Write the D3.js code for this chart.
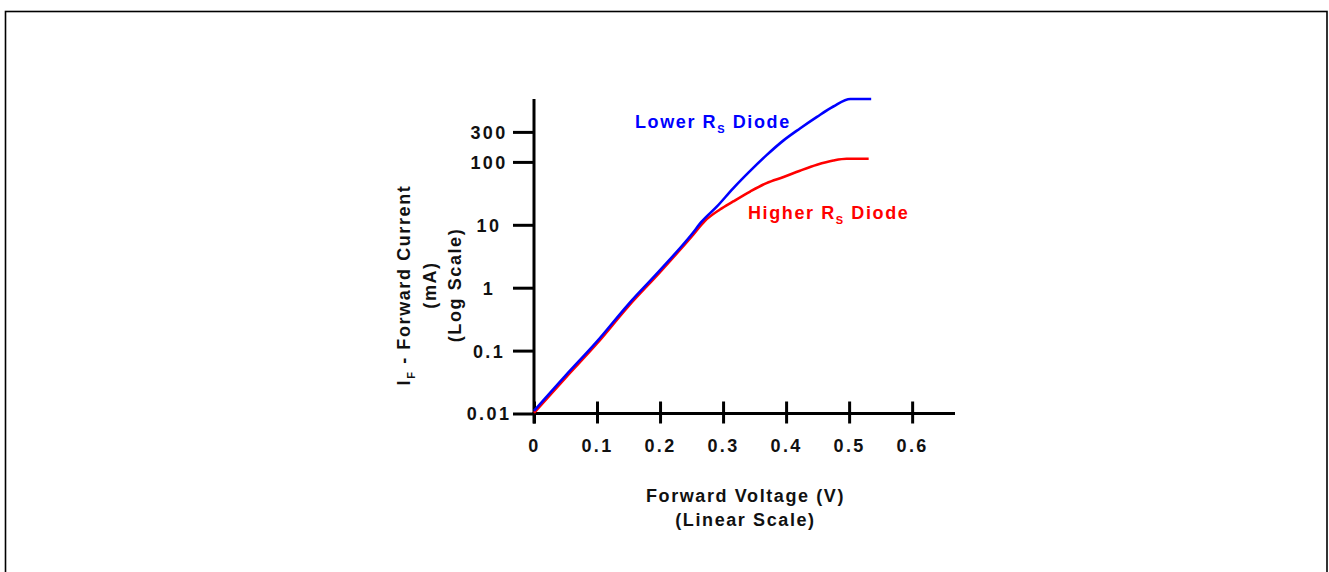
<!DOCTYPE html>
<html>
<head>
<meta charset="utf-8">
<script src="https://cdn.jsdelivr.net/npm/d3@7"></script>
<style>
  html, body { margin: 0; padding: 0; background: #fff; }
  svg { display: block; }
  text { font-family: "Liberation Sans", Arial, sans-serif; font-weight: bold; letter-spacing: 1.6px; }
</style>
</head>
<body>
<svg width="1329" height="572"></svg>
<script>
var voltsLower = [0, 0.05, 0.1, 0.15, 0.2, 0.25, 0.266, 0.29, 0.316, 0.343, 0.369, 0.396, 0.422, 0.449, 0.475, 0.502, 0.535]
var currentLower = [0.011, 0.04, 0.14, 0.55, 1.9, 7.0, 11.2, 19.4, 38, 72, 128, 220, 340, 520, 760, 1000, 1000]

var voltsHigher = [0, 0.05, 0.1, 0.15, 0.2, 0.25, 0.271, 0.295, 0.316, 0.343, 0.369, 0.396, 0.422, 0.449, 0.475, 0.496, 0.531]
var currentHigher = [0.0102, 0.037, 0.13, 0.51, 1.77, 6.5, 11.5, 17.5, 23.5, 33.8, 46, 57.5, 72.4, 90, 105, 112, 112]

var xTicks = [0, 0.1, 0.2, 0.3, 0.4, 0.5, 0.6]
var yTicks = [0.01, 0.1, 1, 10, 100, 300]
var yTickLabels = ["0.01", "0.1", "1", "10", "100", "300"]

document.addEventListener("DOMContentLoaded", function () {

  viz();

  function viz() {
    var svg = d3.select("svg")

    // frame around the picture, bottom edge is off the page
    svg.append("rect")
      .attr("x", 5.5).attr("y", 11.5)
      .attr("width", 1321.5).attr("height", 600)
      .style("fill", "none").style("stroke", "#000").style("stroke-width", 1.6)

    var xScale = d3.scaleLinear().domain([0, 0.668]).range([534, 955])
    var yScale = d3.scaleLog().domain([0.01, 1000]).range([413.5, 99])

    var xAxis = d3.axisBottom()
      .scale(xScale)
      .tickValues(xTicks)
      .tickSize(10)
      .tickFormat(function (d) { return d === 0 ? "0" : d3.format(".1f")(d) });

    var xg = svg.append("g").attr("id", "xAxisG")
      .attr("transform", "translate(0," + yScale(0.01) + ")")
      .call(xAxis);
    xg.select(".domain").remove()
    xg.selectAll(".tick line").attr("y1", -12).attr("y2", 10).style("stroke", "#000").style("stroke-width", 3)
    xg.selectAll(".tick text").attr("y", 38).attr("dy", 0).style("font-size", "18px").style("fill", "#111")
      .style("font-family", null).style("letter-spacing", "2.4px")

    var yAxis = d3.axisLeft()
      .scale(yScale)
      .tickValues(yTicks)
      .tickSize(21)
      .tickFormat(function (d, i) { return yTickLabels[i] });

    var yg = svg.append("g").attr("id", "yAxisG")
      .attr("transform", "translate(" + xScale(0) + ",0)")
      .call(yAxis);
    yg.select(".domain").remove()
    yg.selectAll(".tick line").style("stroke", "#000").style("stroke-width", 3)
    yg.selectAll(".tick text").attr("x", -45).attr("dy", "0.36em")
      .attr("text-anchor", "middle").style("font-size", "18px").style("fill", "#111")
      .style("font-family", null).style("letter-spacing", "2.4px")

    // axis lines
    svg.append("line")
      .attr("x1", xScale(0)).attr("x2", xScale(0))
      .attr("y1", yScale(1000)).attr("y2", yScale(0.01) + 10)
      .style("stroke", "#000").style("stroke-width", 3)
    svg.append("line")
      .attr("x1", xScale(0) - 1.5).attr("x2", xScale(0.668))
      .attr("y1", yScale(0.01)).attr("y2", yScale(0.01))
      .style("stroke", "#000").style("stroke-width", 3)

    var line = d3.line()
      .x(function (d) { return xScale(d[0]) })
      .y(function (d) { return yScale(d[1]) })
      .curve(d3.curveMonotoneX)

    var higher = voltsHigher.map(function (v, i) { return [v, currentHigher[i]] })
    var lower = voltsLower.map(function (v, i) { return [v, currentLower[i]] })

    svg.append("path").datum(higher).attr("d", line)
      .style("fill", "none").style("stroke", "#ff0000").style("stroke-width", 2.6)
    svg.append("path").datum(lower).attr("d", line)
      .style("fill", "none").style("stroke", "#0000ff").style("stroke-width", 2.6)

    // series labels
    var lab1 = svg.append("text").attr("x", 635).attr("y", 128)
      .style("font-size", "18px").style("fill", "#0000ff")
    lab1.append("tspan").text("Lower R")
    lab1.append("tspan").attr("dy", 5).style("font-size", "11px").text("S")
    lab1.append("tspan").attr("dy", -5).text(" Diode")

    var lab2 = svg.append("text").attr("x", 748).attr("y", 219)
      .style("font-size", "18px").style("fill", "#ff0000")
    lab2.append("tspan").text("Higher R")
    lab2.append("tspan").attr("dy", 5).style("font-size", "11px").text("S")
    lab2.append("tspan").attr("dy", -5).text(" Diode")

    // x title
    svg.append("text").attr("x", 745.5).attr("y", 502)
      .attr("text-anchor", "middle").style("font-size", "18px").style("fill", "#111")
      .text("Forward Voltage (V)")
    svg.append("text").attr("x", 745.5).attr("y", 526)
      .attr("text-anchor", "middle").style("font-size", "18px").style("fill", "#111")
      .text("(Linear Scale)")

    // y title
    var t1 = svg.append("text").attr("transform", "translate(410,285) rotate(-90)")
      .attr("text-anchor", "middle").style("font-size", "18px").style("fill", "#111")
    t1.append("tspan").text("I")
    t1.append("tspan").attr("dy", 5).style("font-size", "11px").text("F")
    t1.append("tspan").attr("dy", -5).text(" -  Forward Current")
    svg.append("text").attr("transform", "translate(436,285) rotate(-90)")
      .attr("text-anchor", "middle").style("font-size", "18px").style("fill", "#111")
      .text("(mA)")
    svg.append("text").attr("transform", "translate(461,285) rotate(-90)")
      .attr("text-anchor", "middle").style("font-size", "18px").style("fill", "#111")
      .text("(Log Scale)")
  }

});
</script>
</body>
</html>
